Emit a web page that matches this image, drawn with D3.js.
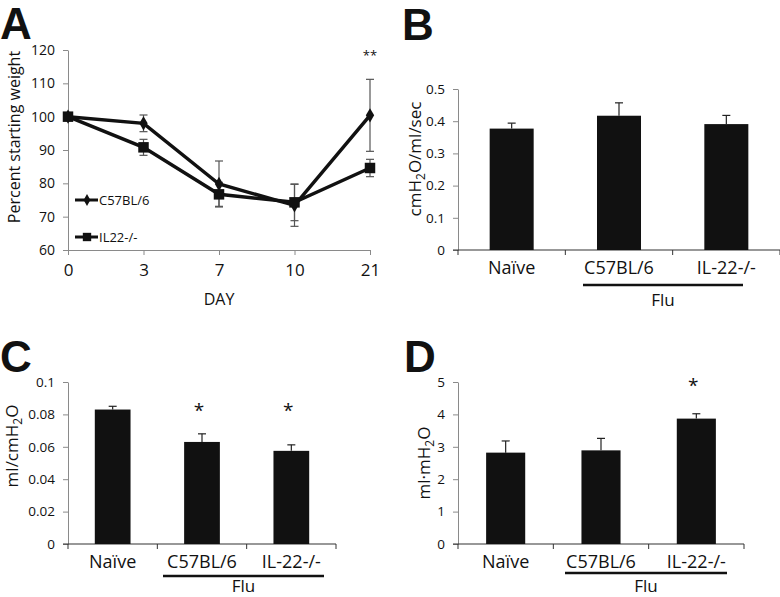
<!DOCTYPE html>
<html><head><meta charset="utf-8">
<script src="https://cdn.jsdelivr.net/npm/d3@7"></script>
<style>
body{margin:0;background:#fff}
svg{display:block}
text{font-family:"Open Sans","Noto Sans",sans-serif;fill:#111}
.letter{font-family:"Liberation Sans",Arial,sans-serif;font-weight:bold;font-size:44px}
</style></head>
<body>
<svg id="c" width="780" height="597"></svg>
<script>
// ---- Panel A data ----
const days = ["0","3","7","10","21"];
const c57Weight = [100, 98, 79.8, 73.4, 100.4];
const c57Err = [0, 2.5, 6.9, 6.3, 10.8];
const il22Weight = [100, 90.8, 76.7, 74.3, 84.6];
const il22Err = [0, 2.4, 3.6, 5.5, 2.6];
const weightTicks = [60,70,80,90,100,110,120];

// ---- Bar panels data ----
const groups = ["Naïve","C57BL/6","IL-22-/-"];
const resistB = [0.377, 0.417, 0.391];
const resistBErr = [0.017, 0.040, 0.027];
const ticksB = [0,0.1,0.2,0.3,0.4,0.5];
const complC = [0.083, 0.063, 0.0575];
const complCErr = [0.002, 0.005, 0.0037];
const ticksC = [0,0.02,0.04,0.06,0.08,0.1];
const elastD = [2.82, 2.89, 3.87];
const elastDErr = [0.36, 0.37, 0.15];
const ticksD = [0,1,2,3,4,5];
const starsC = ["","*","*"];
const starsD = ["","","*"];

const svg = d3.select("#c");
const axisCol = "#8a8a8a";

// Panel letters
[["A",0,39],["B",402,40],["C",0,372],["D",404,372]].forEach(([t,x,y])=>{
  svg.append("text").attr("class","letter").attr("x",x).attr("y",y).text(t);
});

// ---------- Panel A ----------
{
  const g = svg.append("g");
  const x = d3.scalePoint().domain(days).range([68,370]);
  const y = d3.scaleLinear().domain([60,120]).range([250,50]);
  const ya = g.append("g").attr("transform","translate(68,0)")
    .call(d3.axisLeft(y).tickValues(weightTicks).tickSize(5).tickSizeOuter(0).tickPadding(8));
  ya.selectAll("text").style("font-size","14px");
  const xa = g.append("g").attr("transform","translate(0,250)")
    .call(d3.axisBottom(x).tickSize(5).tickSizeOuter(0).tickPadding(9));
  xa.selectAll("text").style("font-size","17px");
  [ya,xa].forEach(a=>{a.select(".domain").attr("stroke",axisCol);a.selectAll("line").attr("stroke",axisCol);a.selectAll("text").attr("fill","#111");});
  g.append("text").attr("transform","translate(20,137) rotate(-90)").attr("text-anchor","middle")
    .style("font-size","16px").text("Percent starting weight");
  g.append("text").attr("x",219).attr("y",305).attr("text-anchor","middle").style("font-size","16px").text("DAY");

  const series = [{v:c57Weight,e:c57Err,m:"diamond"},{v:il22Weight,e:il22Err,m:"square"}];
  series.forEach(s=>{
    days.forEach((d,i)=>{
      if(!s.e[i]) return;
      const cx=x(d), t=y(s.v[i]+s.e[i]), b=y(s.v[i]-s.e[i]);
      g.append("line").attr("x1",cx).attr("x2",cx).attr("y1",t).attr("y2",b).attr("stroke","#555").attr("stroke-width",1.2);
      [t,b].forEach(yy=>g.append("line").attr("x1",cx-4).attr("x2",cx+4).attr("y1",yy).attr("y2",yy).attr("stroke","#555").attr("stroke-width",1.2));
    });
  });
  const line = d3.line().x((d,i)=>x(days[i])).y(d=>y(d));
  series.forEach(s=>{
    g.append("path").attr("d",line(s.v)).attr("fill","none").attr("stroke","#111").attr("stroke-width",3.5);
  });
  const sym = {diamond:d3.symbol().type(d3.symbolDiamond).size(60), square:d3.symbol().type(d3.symbolSquare).size(110)};
  series.forEach(s=>{
    s.v.forEach((v,i)=>{
      g.append("path").attr("d",sym[s.m]()).attr("transform",`translate(${x(days[i])},${y(v)})`).attr("fill","#111");
    });
  });
  g.append("text").attr("x",x("21")).attr("y",60).attr("text-anchor","middle").style("font-size","13px").attr("fill","#666").text("**");
  const leg = [{n:"C57BL/6",m:"diamond",yy:200},{n:"IL22-/-",m:"square",yy:237}];
  leg.forEach(l=>{
    g.append("line").attr("x1",75).attr("x2",98).attr("y1",l.yy).attr("y2",l.yy).attr("stroke","#111").attr("stroke-width",3);
    g.append("path").attr("d",d3.symbol().type(l.m==="diamond"?d3.symbolDiamond:d3.symbolSquare).size(l.m==="diamond"?40:70)()).attr("transform",`translate(87,${l.yy})`).attr("fill","#111");
    g.append("text").attr("x",99).attr("y",l.yy+4.5).style("font-size","13px").text(l.n);
  });
}

// ---------- Bar panel helper ----------
function barPanel(o){
  const g = svg.append("g");
  const x = d3.scaleBand().domain(groups).range([o.x0,o.x1]).paddingInner(o.pad).paddingOuter(o.pad/2);
  const y = d3.scaleLinear().domain([0,o.ticks[o.ticks.length-1]]).range([o.yb,o.yt]);
  const ya = g.append("g").attr("transform",`translate(${o.x0},0)`)
    .call(d3.axisLeft(y).tickValues(o.ticks).tickFormat(o.fmt).tickSize(5).tickSizeOuter(0).tickPadding(8));
  ya.selectAll("text").style("font-size","13.5px").attr("fill","#111");
  ya.select(".domain").attr("stroke",axisCol); ya.selectAll("line").attr("stroke",axisCol);
  g.append("line").attr("x1",o.x0-5).attr("x2",o.x1).attr("y1",o.yb).attr("y2",o.yb).attr("stroke","#333").attr("stroke-width",1.2);
  const step = x.step();
  const bounds = groups.map((d,i)=>o.x0+step*i).concat([o.x1]);
  bounds.forEach(bx=>g.append("line").attr("x1",bx).attr("x2",bx).attr("y1",o.yb).attr("y2",o.yb+5).attr("stroke","#333"));
  groups.forEach((d,i)=>{
    const cx = x(d)+x.bandwidth()/2;
    const t = y(o.vals[i]+o.errs[i]);
    g.append("line").attr("x1",cx).attr("x2",cx).attr("y1",y(o.vals[i])).attr("y2",t).attr("stroke","#222").attr("stroke-width",1.2);
    g.append("line").attr("x1",cx-4).attr("x2",cx+4).attr("y1",t).attr("y2",t).attr("stroke","#222").attr("stroke-width",1.2);
  });
  g.selectAll("rect.bar").data(o.vals).join("rect").attr("class","bar")
    .attr("x",(d,i)=>x(groups[i])).attr("width",x.bandwidth())
    .attr("y",d=>y(d)).attr("height",d=>o.yb-y(d)).attr("fill","#111");
  groups.forEach((d,i)=>{
    g.append("text").attr("x",x(d)+x.bandwidth()/2).attr("y",o.yb+24).attr("text-anchor","middle").style("font-size","18px").text(d);
    if(o.stars && o.stars[i]) g.append("text").attr("x",x(d)+x.bandwidth()/2-3).attr("y",o.starY).attr("text-anchor","middle").style("font-size","19px").text(o.stars[i]);
  });
  g.append("line").attr("x1",o.flu[0]).attr("x2",o.flu[1]).attr("y1",o.fluY).attr("y2",o.fluY).attr("stroke","#111").attr("stroke-width",2.5);
  g.append("text").attr("x",(o.flu[0]+o.flu[1])/2).attr("y",Math.min(o.fluY+21,592)).attr("text-anchor","middle").style("font-size","17px").text("Flu");
  const yl = g.append("text").attr("transform",`translate(${o.ylx},${o.yly}) rotate(-90)`).attr("text-anchor","middle").style("font-size","17px");
  o.ylab.forEach(p=>{
    const t = yl.append("tspan").text(p[0]);
    if(p[1]) t.attr("dy",4).style("font-size","12px");
    else if(yl.selectAll("tspan").size()>1) t.attr("dy",-4);
  });
}

barPanel({x0:458,x1:780,yb:250,yt:89,pad:0.59,ticks:ticksB,fmt:d3.format(""),vals:resistB,errs:resistBErr,
  flu:[583,743],fluY:285,ylx:421,yly:159,ylab:[["cmH"],["2",1],["O/ml/sec"]]});
barPanel({x0:68,x1:336,yb:544,yt:382,pad:0.6,ticks:ticksC,fmt:d3.format(""),vals:complC,errs:complCErr,
  stars:starsC,starY:417,flu:[163,324],fluY:576,ylx:18,yly:446,ylab:[["ml/cmH"],["2",1],["O"]]});
barPanel({x0:458,x1:744,yb:544,yt:382,pad:0.59,ticks:ticksD,fmt:d3.format(""),vals:elastD,errs:elastDErr,
  stars:starsD,starY:392,flu:[565,727],fluY:573,ylx:430,yly:463,ylab:[["ml·mH"],["2",1],["O"]]});
</script>
</body></html>
